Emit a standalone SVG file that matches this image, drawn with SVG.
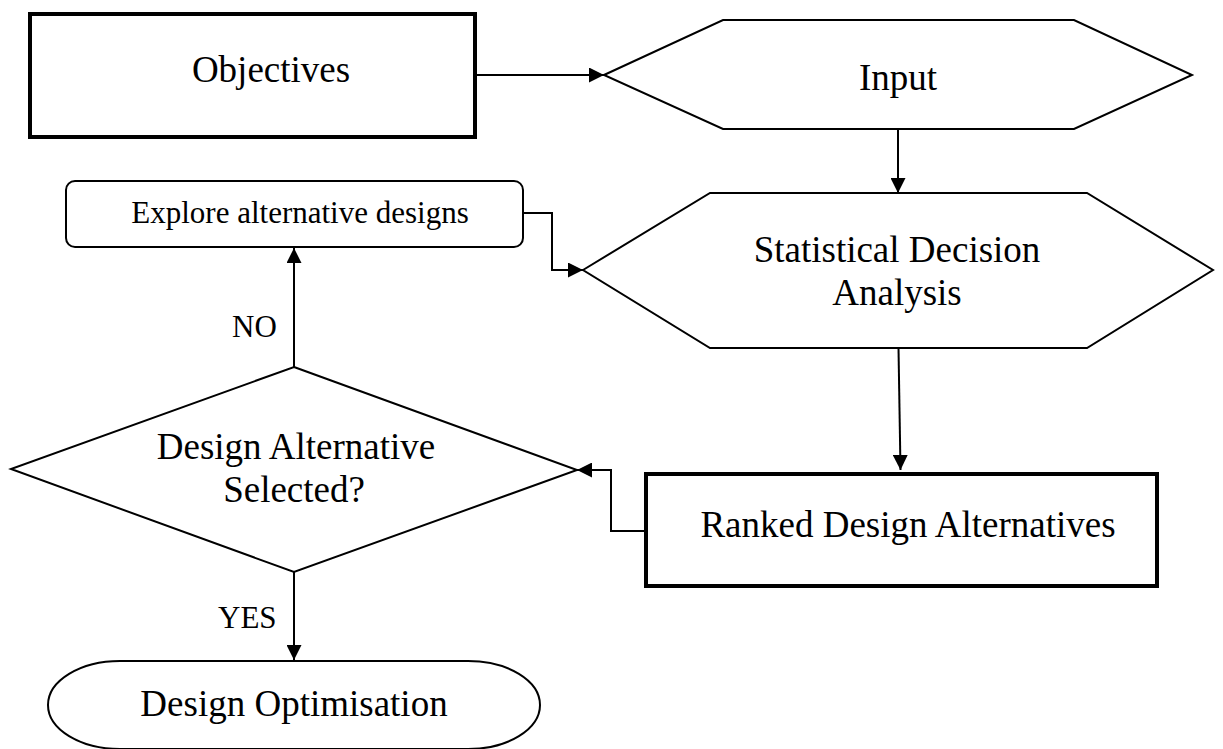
<svg xmlns="http://www.w3.org/2000/svg" width="1223" height="749" viewBox="0 0 1223 749">
  <style>
    .bold { fill: #ffffff; stroke: #000000; stroke-width: 4; }
    .thin { fill: #ffffff; stroke: #000000; stroke-width: 2; stroke-linejoin: miter; }
    .big { font-family: "Liberation Serif", "Times New Roman", serif; font-size: 37px; fill: #000000; text-anchor: middle; }
    .small { font-family: "Liberation Serif", "Times New Roman", serif; font-size: 31px; fill: #000000; text-anchor: middle; }
    .label { font-family: "Liberation Serif", "Times New Roman", serif; font-size: 31px; fill: #000000; }
    .conn { fill: none; stroke: #000000; stroke-width: 2; marker-end: url(#arrow); }
  </style>
  <defs>
    <marker id="arrow" markerUnits="userSpaceOnUse" markerWidth="15" markerHeight="15" refX="15" refY="7.5" orient="auto">
      <path d="M0,0 L15,7.5 L0,15 Z" fill="#000000"/>
    </marker>
  </defs>
  <rect width="1223" height="749" fill="#ffffff"/>

  <!-- connectors -->
  <g id="connectors">
    <path class="conn" d="M475,75 H604"/>
    <path class="conn" d="M898,129 V193"/>
    <path class="conn" d="M898.5,348 L900.5,470"/>
    <path class="conn" d="M646,531 H611 V470 H577"/>
    <path class="conn" d="M523,213 H552 V270 H583"/>
    <path class="conn" d="M294,367 V248"/>
    <path class="conn" d="M294,572 V660"/>
    <text class="label" x="232" y="337">NO</text>
    <text class="label" x="218" y="628">YES</text>
  </g>

  <g id="objectives">
    <rect class="bold" x="30" y="14" width="445" height="123"/>
    <text class="big" x="271" y="82">Objectives</text>
  </g>

  <g id="input">
    <polygon class="thin" points="604,75 723,20 1074,20 1192,75 1074,129 723,129"/>
    <text class="big" x="898" y="90">Input</text>
  </g>

  <g id="explore">
    <rect class="thin" x="66" y="181" width="457" height="66" rx="9" ry="9"/>
    <text class="small" x="300" y="223">Explore alternative designs</text>
  </g>

  <g id="analysis">
    <polygon class="thin" points="583,270 710,193 1087,193 1213,270 1087,348 710,348"/>
    <text class="big" x="897" y="262">Statistical Decision</text>
    <text class="big" x="897" y="305">Analysis</text>
  </g>

  <g id="decision">
    <polygon class="thin" points="294,367 577,470 294,572 11,469"/>
    <text class="big" x="296" y="459">Design Alternative</text>
    <text class="big" x="294" y="502">Selected?</text>
  </g>

  <g id="ranked">
    <rect class="bold" x="646" y="474" width="511" height="112"/>
    <text class="big" x="908" y="537">Ranked Design Alternatives</text>
  </g>

  <g id="optimisation">
    <rect class="thin" x="48" y="661" width="492" height="88" rx="72" ry="44"/>
    <text class="big" x="294" y="716">Design Optimisation</text>
  </g>
</svg>
